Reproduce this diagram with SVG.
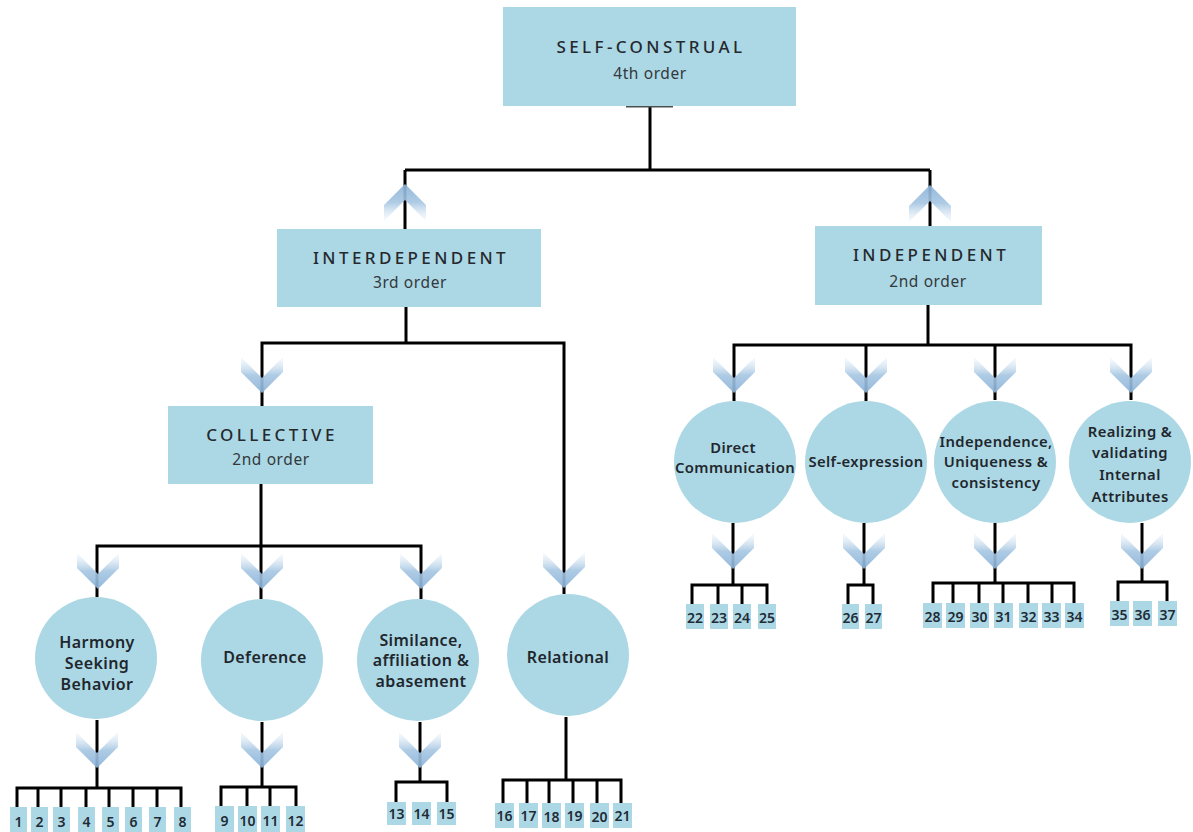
<svg xmlns="http://www.w3.org/2000/svg" width="1193" height="832" viewBox="0 0 1193 832">
  <defs>
    <linearGradient id="chevDown" x1="0" y1="0" x2="0" y2="1">
      <stop offset="0" stop-color="#e6f0f8" stop-opacity="0.3"/>
      <stop offset="0.5" stop-color="#a6c6e2" stop-opacity="0.9"/>
      <stop offset="1" stop-color="#8ab2d8" stop-opacity="0.92"/>
    </linearGradient>
    <linearGradient id="chevUp" x1="0" y1="1" x2="0" y2="0">
      <stop offset="0" stop-color="#e6f0f8" stop-opacity="0.3"/>
      <stop offset="0.5" stop-color="#a6c6e2" stop-opacity="0.9"/>
      <stop offset="1" stop-color="#8ab2d8" stop-opacity="0.92"/>
    </linearGradient>
    <polygon id="down" points="-21,0 0,21 21,0 21,15 0,36 -21,15" fill="url(#chevDown)"/>
    <polygon id="up" points="0,0 21,21 21,37 0,16 -21,37 -21,21" fill="url(#chevUp)"/>
  </defs>
  <style>
    .box { fill: #acd8e5; }
    .title { font-family: "Noto Sans", "DejaVu Sans", sans-serif; font-size: 17px; font-weight: 500; letter-spacing: 3.4px; fill: #25292d; text-anchor: middle; }
    .sub { font-family: "Noto Sans", "DejaVu Sans", sans-serif; font-size: 15.5px; letter-spacing: 0.6px; fill: #33383c; text-anchor: middle; }
    .clabel { font-family: "Noto Sans", "DejaVu Sans", sans-serif; font-size: 16px; font-weight: 600; letter-spacing: 0.4px; fill: #1f272d; text-anchor: middle; }
    .clabel.sm { font-size: 14.8px; }
    .num { font-family: "Noto Sans", "DejaVu Sans", sans-serif; font-size: 14px; font-weight: 600; fill: #1f2b35; text-anchor: middle; }
    .wire { fill: none; stroke: #000; stroke-width: 3; }
  </style>

  <rect width="1193" height="832" fill="#fff"/>

  <!-- connectors -->
  <g id="connectors" class="wire">
    <path d="M650,106 V170 M405,170 H930 M405,170 V229 M930,170 V226"/>
    <path d="M406,307 V343 M262,406 V343 H564 V594"/>
    <path d="M928,305 V345 M734,401 V345 H1131 V400 M866,345 V401 M995,345 V400"/>
    <path d="M261,484 V546 M97,597 V546 H421 V599 M261,546 V599"/>
    <!-- leaf fans, left side -->
    <path d="M97,720 V788 M17,807 V788 H181 V807 M38,788 V807 M61,788 V807 M86,788 V807 M109,788 V807 M133,788 V807 M157,788 V807"/>
    <path d="M262,722 V787 M221,806 V787 H296 V806 M247,787 V806 M270,787 V806"/>
    <path d="M420,722 V782 M396,802 V782 H447 V802"/>
    <path d="M566,717 V780 M503,803 V780 H621 V803 M527,780 V803 M549,780 V803 M573,780 V803 M597,780 V803"/>
    <!-- leaf fans, right side -->
    <path d="M733,523 V585 M692,604 V585 H767 V604 M718,585 V604 M742,585 V604"/>
    <path d="M864,523 V585 M848,604 V585 H873 V604"/>
    <path d="M995,523 V583 M933,603 V583 H1074 V603 M953,583 V603 M979,583 V603 M1003,583 V603 M1028,583 V603 M1052,583 V603"/>
    <path d="M1142,523 V582 M1118,601 V582 H1167 V601"/>
    <line x1="626" y1="106.5" x2="673" y2="106.5" stroke="#4a4f52" stroke-width="2"/>
  </g>

  <!-- chevrons -->
  <g id="chevrons">
    <use href="#up" x="405" y="184"/>
    <use href="#up" x="930" y="185"/>
    <use href="#down" x="262" y="357"/>
    <use href="#down" x="734" y="357"/>
    <use href="#down" x="866" y="357"/>
    <use href="#down" x="995" y="357"/>
    <use href="#down" x="1131" y="357"/>
    <use href="#down" x="98" y="553"/>
    <use href="#down" x="262" y="553"/>
    <use href="#down" x="421" y="553"/>
    <use href="#down" x="564" y="552"/>
    <use href="#down" x="97" y="732"/>
    <use href="#down" x="262" y="732"/>
    <use href="#down" x="420" y="732"/>
    <use href="#down" x="733" y="533"/>
    <use href="#down" x="864" y="533"/>
    <use href="#down" x="995" y="533"/>
    <use href="#down" x="1142" y="533"/>
  </g>

  <!-- boxed nodes -->
  <g id="self-construal">
    <rect class="box" x="503" y="7" width="293" height="99"/>
    <text class="title" x="651" y="53">SELF-CONSTRUAL</text>
    <text class="sub" x="650" y="79">4th order</text>
  </g>
  <g id="interdependent">
    <rect class="box" x="277" y="229" width="264" height="78"/>
    <text class="title" x="411" y="264">INTERDEPENDENT</text>
    <text class="sub" x="410" y="288">3rd order</text>
  </g>
  <g id="independent">
    <rect class="box" x="815" y="226" width="227" height="79"/>
    <text class="title" x="931" y="261">INDEPENDENT</text>
    <text class="sub" x="928" y="287">2nd order</text>
  </g>
  <g id="collective">
    <rect class="box" x="168" y="406" width="205" height="78"/>
    <text class="title" x="272" y="441">COLLECTIVE</text>
    <text class="sub" x="271" y="465">2nd order</text>
  </g>

  <!-- circle nodes -->
  <g id="harmony">
    <circle class="box" cx="96" cy="658" r="61"/>
    <text class="clabel" x="97" y="648">Harmony</text>
    <text class="clabel" x="97" y="669">Seeking</text>
    <text class="clabel" x="97" y="690">Behavior</text>
  </g>
  <g id="deference">
    <circle class="box" cx="262" cy="660" r="61"/>
    <text class="clabel" x="265" y="663">Deference</text>
  </g>
  <g id="similance">
    <circle class="box" cx="418" cy="660" r="61"/>
    <text class="clabel" x="421" y="646">Similance,</text>
    <text class="clabel" x="421" y="666">affiliation &amp;</text>
    <text class="clabel" x="421" y="687">abasement</text>
  </g>
  <g id="relational">
    <circle class="box" cx="568" cy="655" r="61"/>
    <text class="clabel" x="568" y="663">Relational</text>
  </g>
  <g id="direct-communication">
    <circle class="box" cx="735" cy="462" r="61"/>
    <text class="clabel sm" x="733" y="453">Direct</text>
    <text class="clabel sm" x="735" y="473">Communication</text>
  </g>
  <g id="self-expression">
    <circle class="box" cx="866" cy="462" r="61"/>
    <text class="clabel sm" x="866" y="467">Self-expression</text>
  </g>
  <g id="independence">
    <circle class="box" cx="995" cy="462" r="61"/>
    <text class="clabel sm" x="996" y="447">Independence,</text>
    <text class="clabel sm" x="996" y="467">Uniqueness &amp;</text>
    <text class="clabel sm" x="996" y="488">consistency</text>
  </g>
  <g id="realizing">
    <circle class="box" cx="1130" cy="462" r="61"/>
    <text class="clabel sm" x="1130" y="437">Realizing &amp;</text>
    <text class="clabel sm" x="1130" y="458">validating</text>
    <text class="clabel sm" x="1130" y="480">Internal</text>
    <text class="clabel sm" x="1130" y="502">Attributes</text>
  </g>

  <!-- numbered item boxes -->
  <g id="items-1-8">
    <rect class="box" x="10" y="807" width="17" height="25"/><text class="num" x="18.5" y="827">1</text>
    <rect class="box" x="31" y="807" width="17" height="25"/><text class="num" x="39.5" y="827">2</text>
    <rect class="box" x="53" y="807" width="17" height="25"/><text class="num" x="61.5" y="827">3</text>
    <rect class="box" x="78" y="807" width="17" height="25"/><text class="num" x="86.5" y="827">4</text>
    <rect class="box" x="102" y="807" width="17" height="25"/><text class="num" x="110.5" y="827">5</text>
    <rect class="box" x="125" y="807" width="17" height="25"/><text class="num" x="133.5" y="827">6</text>
    <rect class="box" x="149" y="807" width="17" height="25"/><text class="num" x="157.5" y="827">7</text>
    <rect class="box" x="174" y="807" width="17" height="25"/><text class="num" x="182.5" y="827">8</text>
  </g>
  <g id="items-9-12">
    <rect class="box" x="215" y="806" width="19" height="26"/><text class="num" x="224.5" y="826">9</text>
    <rect class="box" x="238" y="806" width="19" height="26"/><text class="num" x="247.5" y="826">10</text>
    <rect class="box" x="261" y="806" width="19" height="26"/><text class="num" x="270.5" y="826">11</text>
    <rect class="box" x="286" y="806" width="19" height="26"/><text class="num" x="295.5" y="826">12</text>
  </g>
  <g id="items-13-15">
    <rect class="box" x="387" y="802" width="19" height="23"/><text class="num" x="396.5" y="819">13</text>
    <rect class="box" x="412" y="802" width="19" height="23"/><text class="num" x="421.5" y="819">14</text>
    <rect class="box" x="437" y="802" width="19" height="23"/><text class="num" x="446.5" y="819">15</text>
  </g>
  <g id="items-16-21">
    <rect class="box" x="495" y="803" width="19" height="25"/><text class="num" x="504.5" y="821">16</text>
    <rect class="box" x="519" y="803" width="19" height="25"/><text class="num" x="528.5" y="821">17</text>
    <rect class="box" x="542" y="803" width="19" height="25"/><text class="num" x="551.5" y="822">18</text>
    <rect class="box" x="565" y="803" width="19" height="25"/><text class="num" x="574.5" y="821">19</text>
    <rect class="box" x="590" y="803" width="19" height="25"/><text class="num" x="599.5" y="822">20</text>
    <rect class="box" x="613" y="803" width="19" height="25"/><text class="num" x="622.5" y="821">21</text>
  </g>
  <g id="items-22-25">
    <rect class="box" x="686" y="604" width="18" height="25"/><text class="num" x="695" y="623">22</text>
    <rect class="box" x="710" y="604" width="18" height="25"/><text class="num" x="719" y="623">23</text>
    <rect class="box" x="733" y="604" width="18" height="25"/><text class="num" x="742" y="623">24</text>
    <rect class="box" x="758" y="604" width="18" height="25"/><text class="num" x="767" y="623">25</text>
  </g>
  <g id="items-26-27">
    <rect class="box" x="842" y="604" width="17" height="25"/><text class="num" x="850.5" y="623">26</text>
    <rect class="box" x="865" y="604" width="17" height="25"/><text class="num" x="873.5" y="623">27</text>
  </g>
  <g id="items-28-34">
    <rect class="box" x="923" y="603" width="19" height="25"/><text class="num" x="932.5" y="622">28</text>
    <rect class="box" x="946" y="603" width="19" height="25"/><text class="num" x="955.5" y="622">29</text>
    <rect class="box" x="970" y="603" width="19" height="25"/><text class="num" x="979.5" y="622">30</text>
    <rect class="box" x="994" y="603" width="19" height="25"/><text class="num" x="1003.5" y="622">31</text>
    <rect class="box" x="1019" y="603" width="19" height="25"/><text class="num" x="1028.5" y="622">32</text>
    <rect class="box" x="1042" y="603" width="19" height="25"/><text class="num" x="1051.5" y="622">33</text>
    <rect class="box" x="1065" y="603" width="19" height="25"/><text class="num" x="1074.5" y="622">34</text>
  </g>
  <g id="items-35-37">
    <rect class="box" x="1110" y="601" width="19" height="25"/><text class="num" x="1119.5" y="620">35</text>
    <rect class="box" x="1133" y="601" width="19" height="25"/><text class="num" x="1142.5" y="620">36</text>
    <rect class="box" x="1158" y="601" width="19" height="25"/><text class="num" x="1167.5" y="620">37</text>
  </g>
</svg>
